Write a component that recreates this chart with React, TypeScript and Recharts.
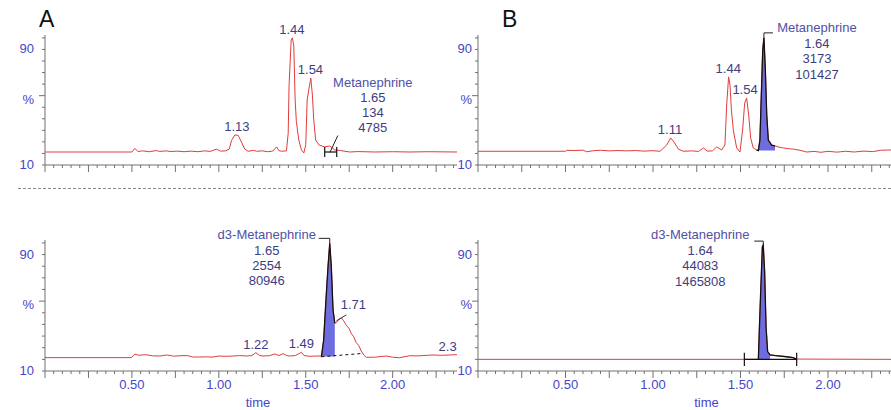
import React from 'react';
import { ComposedChart, Line, Area, XAxis, YAxis, Scatter, ReferenceLine } from 'recharts';

const RED = '#e23c3c';
const AXIS = '#707070';
const TICK_TEXT = '#4646c8';
const PEAK_TEXT = '#3d3d80';
const NAME_TEXT = '#5050a6';
const FILL = '#6d6de0';
const FONT = '"Liberation Sans", Arial, sans-serif';
const FS = 13;

// [retention time (min), relative intensity]
const traceATop = [
  [0, 19], [0.5, 19], [0.517, 21.5], [0.535, 19.3], [0.56, 19.8], [0.6, 19.2], [0.64, 20], [0.66, 19.4],
  [0.7, 19.8], [0.72, 19.3], [0.76, 19.6], [0.8, 19.2], [0.84, 19.6], [0.88, 19.2], [0.92, 19.8],
  [0.95, 19.4], [0.987, 21], [1.01, 19.6], [1.04, 19.8], [1.06, 21], [1.073, 27], [1.092, 30.8],
  [1.111, 30.5], [1.13, 25.9], [1.149, 21], [1.169, 19.5], [1.2, 20.2], [1.217, 19.5], [1.25, 19.8],
  [1.28, 19.2], [1.31, 19.6], [1.332, 22.5], [1.345, 20], [1.36, 19.5], [1.389, 19.8], [1.399, 32],
  [1.404, 65], [1.416, 96.5], [1.423, 98], [1.431, 93], [1.439, 55], [1.446, 40], [1.46, 27.3],
  [1.475, 20.4], [1.489, 18.3], [1.5, 24], [1.508, 55], [1.519, 63.3], [1.529, 70.2], [1.538, 58.5],
  [1.546, 41.2], [1.557, 27.3], [1.577, 23.8], [1.609, 22.5], [1.638, 23.2], [1.667, 20.4], [1.7, 20],
  [1.753, 19], [1.8, 19.3], [1.9, 19], [2.0, 19.2], [2.1, 19], [2.2, 19.2], [2.37, 19],
];

const traceABottom = [
  [0, 19.2], [0.498, 19.2], [0.517, 21.6], [0.54, 20.8], [0.58, 21.2], [0.62, 20.4], [0.661, 20.3],
  [0.7, 21], [0.74, 20.2], [0.776, 20.5], [0.82, 20.6], [0.85, 19.6], [0.891, 19.6], [0.93, 19.7],
  [0.967, 19.6], [1.0, 20.3], [1.04, 20.1], [1.082, 20.3], [1.12, 20.6], [1.16, 20.3], [1.19, 20.6],
  [1.213, 22.6], [1.235, 20.6], [1.255, 20.3], [1.29, 20.5], [1.322, 21.7], [1.345, 20.6], [1.37, 21.9],
  [1.39, 20.6], [1.408, 20.3], [1.44, 20.6], [1.475, 22.8], [1.49, 20.6], [1.523, 20.1], [1.56, 20.3],
  [1.584, 20.3], [1.59, 19.8], [1.603, 31.3], [1.615, 56.5], [1.628, 81.6], [1.638, 97.7], [1.647, 81.6],
  [1.657, 51.9], [1.667, 42.8], [1.678, 43.5], [1.69, 45.5], [1.705, 46.5], [1.718, 44.5], [1.733, 41.5],
  [1.748, 39.5], [1.763, 35.5], [1.776, 33.5], [1.79, 29.5], [1.805, 27.5], [1.819, 23.8], [1.834, 21],
  [1.848, 19.4], [1.9, 19.5], [1.963, 20.3], [2.0, 19.5], [2.04, 19.1], [2.098, 20.5], [2.15, 20.4],
  [2.2, 20.8], [2.232, 21], [2.28, 20.8], [2.37, 21.2],
];

const traceBTop = [
  [0, 19.5], [0.5, 19.5], [0.507, 20.2], [0.55, 20], [0.6, 20.3], [0.62, 19.2], [0.66, 19.9], [0.7, 20.2],
  [0.75, 19.8], [0.8, 20], [0.85, 19.8], [0.9, 20], [0.95, 19.6], [1.0, 19.9], [1.04, 19.5], [1.078, 23.8],
  [1.101, 28.7], [1.12, 25.9], [1.145, 21], [1.173, 19.5], [1.22, 19.8], [1.26, 19.4], [1.288, 21.8],
  [1.31, 19.6], [1.34, 19.8], [1.364, 22.5], [1.392, 20.4], [1.411, 23.8], [1.421, 51.5], [1.432, 71],
  [1.44, 65.4], [1.448, 48], [1.459, 34.2], [1.478, 21.8], [1.497, 19], [1.512, 34.2], [1.524, 52.9],
  [1.535, 56.4], [1.547, 44.6], [1.558, 28.7], [1.573, 21.8], [1.592, 20.4], [1.602, 20], [1.611, 27.3],
  [1.619, 58.5], [1.627, 89.6], [1.634, 98], [1.642, 75.9], [1.65, 44.6], [1.659, 27.3], [1.678, 23.8],
  [1.697, 23.2], [1.72, 22.4], [1.745, 21.8], [1.78, 21.2], [1.802, 21], [1.84, 20.2], [1.878, 19],
  [1.92, 19.4], [1.96, 18.8], [2.0, 19.5], [2.05, 18.9], [2.1, 19.5], [2.15, 19], [2.2, 19.6],
  [2.26, 19.3], [2.3, 20.2], [2.36, 20.4],
];

const traceBBottom = [
  [0, 18], [1.602, 18], [1.607, 35.9], [1.615, 63.4], [1.625, 95.4], [1.63, 96.5], [1.638, 78.2],
  [1.646, 40.4], [1.655, 23.3], [1.669, 21], [1.7, 20.6], [1.764, 19.8], [1.8, 19.2], [1.821, 18.2],
  [2.36, 18],
];

// apex labels
const peaksATop = [
  { t: 1.104, v: 30.8, text: '1.13' },
  { t: 1.42, v: 98, text: '1.44' },
  { t: 1.527, v: 70.2, text: '1.54' },
];
const peaksABottom = [
  { t: 1.213, v: 22.6, text: '1.22' },
  { t: 1.475, v: 22.8, text: '1.49' },
  { t: 1.705, v: 46.5, text: '1.71' },
  { t: 2.316, v: 21, text: '2.3' },
];
const peaksBTop = [
  { t: 1.097, v: 28.7, text: '1.11' },
  { t: 1.43, v: 71, text: '1.44' },
  { t: 1.526, v: 56.4, text: '1.54' },
];

// integrated compound: name, RT, height, area
const compoundATop = { t: 1.65, v: 20, lines: ['Metanephrine', '1.65', '134', '4785'] };
const compoundBTop = { t: 1.634, v: 98, lines: ['Metanephrine', '1.64', '3173', '101427'] };
const compoundABottom = { t: 1.638, v: 97.7, lines: ['d3-Metanephrine', '1.65', '2554', '80946'] };
const compoundBBottom = { t: 1.63, v: 96.5, lines: ['d3-Metanephrine', '1.64', '44083', '1465808'] };

// integration windows [start, end] and baselines
const windowBTop = { from: 1.592, to: 1.697, base: 20 };
const windowABottom = { from: 1.59, to: 1.667, base: 20 };
const windowBBottom = { from: 1.602, to: 1.669, base: 18 };
const limitsATop = { from: 1.609, to: 1.678, level: 19, half: 3.5 };
const limitsBBottom = { from: 1.522, to: 1.821, level: 18, half: 4.6 };
const baselineABottom = [[1.59, 19.8], [1.82, 22]];

const xLabelTicks = [0.5, 1.0, 1.5, 2.0];
const yTicks = [10, 18, 26, 34, 42, 50, 58, 66, 74, 82, 90, 98];
const yTickLabels: Record<number, string> = { 10: '10', 58: '%', 90: '90' };

const peakShift: Record<string, { dx: number; dy: number; leader?: number[][] }> = {
  '1.71': { dx: 12, dy: -9, leader: [[-5, 3], [5, -3]] },
};

const pts = (arr: number[][]) => arr.map(([t, v]) => ({ t, v }));
const between = (arr: number[][], a: number, b: number) => pts(arr.filter(([t]) => t >= a - 1e-9 && t <= b + 1e-9));

function minorTicks(max: number) {
  const out: number[] = [];
  for (let i = 0; i * 0.05 <= max + 1e-9; i++) out.push(Math.round(i * 5) / 100);
  return out;
}

function XTick({ x, y, payload, showLabel }: any) {
  const v = payload.value;
  const major = Math.abs(v / 0.25 - Math.round(v / 0.25)) < 1e-6;
  const labelled = showLabel && xLabelTicks.some((l) => Math.abs(l - v) < 1e-6);
  return (
    <g>
      <line x1={x} x2={x} y1={y} y2={y + (major ? 7 : 3)} stroke={AXIS} />
      {labelled && (
        <text x={x} y={y + 18} textAnchor="middle" fontSize={FS} fill={TICK_TEXT}>
          {v.toFixed(2)}
        </text>
      )}
    </g>
  );
}

function YTick({ x, y, payload, gap }: any) {
  const v = payload.value;
  const text = yTickLabels[v];
  return (
    <g>
      <line x1={x - (v === 58 ? 6 : 3)} x2={x} y1={y} y2={y} stroke={AXIS} />
      {text && (
        <text x={x - gap} y={y + (text === '%' ? 8 : 4)} textAnchor="end" fontSize={FS} fill={TICK_TEXT}>
          {text}
        </text>
      )}
    </g>
  );
}

function Panel(props: any) {
  const { box, plot, xMax, trace, peaks, compound, layout, win, limits, dashed, yGap, showX, timeDx } = props;
  const xAxisH = box.height - plot.top - plot.h;
  const data = pts(trace);
  const segs: any[] = [];
  if (limits) {
    segs.push([[limits.from, limits.level], [limits.to, limits.level]]);
    segs.push([[limits.from, limits.level - limits.half], [limits.from, limits.level + limits.half]]);
    segs.push([[limits.to, limits.level - limits.half], [limits.to, limits.level + limits.half]]);
  }
  return (
    <div style={{ position: 'absolute', left: box.left, top: box.top }}>
      <ComposedChart
        width={box.width}
        height={box.height}
        margin={{ top: plot.top, right: box.width - plot.left - plot.w, bottom: 0, left: 0 }}
      >
        <XAxis
          type="number"
          dataKey="t"
          domain={[0, xMax]}
          ticks={minorTicks(xMax)}
          interval={0}
          height={xAxisH}
          axisLine={{ stroke: AXIS }}
          tickLine={false}
          tickSize={0}
          tickMargin={0}
          tick={(p: any) => <XTick {...p} showLabel={showX} />}
          label={showX ? { value: 'time', position: 'insideBottom', offset: 3, dx: timeDx, fill: TICK_TEXT, fontSize: FS } : undefined}
        />
        <YAxis
          type="number"
          dataKey="v"
          domain={[10, 100]}
          ticks={yTicks}
          interval={0}
          width={plot.left}
          axisLine={{ stroke: AXIS }}
          tickLine={false}
          tickSize={0}
          tickMargin={0}
          tick={(p: any) => <YTick {...p} gap={yGap} />}
        />
        {win && (
          <Area
            data={between(trace, win.from, win.to)}
            dataKey="v"
            type="linear"
            baseValue={win.base}
            fill={FILL}
            fillOpacity={1}
            stroke="none"
            isAnimationActive={false}
          />
        )}
        <Line data={data} dataKey="v" type="linear" stroke={RED} strokeWidth={1} dot={false} activeDot={false} isAnimationActive={false} />
        {win && (
          <Line
            data={between(trace, win.from, layout.outlineTo ?? win.to)}
            dataKey="v"
            type="linear"
            stroke="#111"
            strokeWidth={1.3}
            dot={false}
            activeDot={false}
            isAnimationActive={false}
          />
        )}
        {dashed && (
          <ReferenceLine
            segment={[{ x: dashed[0][0], y: dashed[0][1] }, { x: dashed[1][0], y: dashed[1][1] }]}
            stroke="#111"
            strokeDasharray="3 3"
          />
        )}
        {segs.map((s, i) => (
          <ReferenceLine key={i} segment={[{ x: s[0][0], y: s[0][1] }, { x: s[1][0], y: s[1][1] }]} stroke="#111" strokeWidth={1.2} />
        ))}
        <Scatter
          data={peaks}
          dataKey="v"
          isAnimationActive={false}
          shape={(p: any) => {
            const s = peakShift[p.payload.text] ?? { dx: 0, dy: -4 };
            return (
              <g>
                {s.leader && (
                  <polyline
                    points={s.leader.map(([a, b]) => `${p.cx + a},${p.cy + b}`).join(' ')}
                    fill="none"
                    stroke="#333"
                  />
                )}
                <text x={p.cx + s.dx} y={p.cy + s.dy} textAnchor="middle" fontSize={FS} fill={PEAK_TEXT}>
                  {p.payload.text}
                </text>
              </g>
            );
          }}
        />
        <Scatter
          data={[compound]}
          dataKey="v"
          isAnimationActive={false}
          shape={(p: any) => (
            <g>
              <polyline
                points={layout.leader.map(([a, b]: number[]) => `${p.cx + a},${p.cy + b}`).join(' ')}
                fill="none"
                stroke="#222"
              />
              {p.payload.lines.map((ln: string, i: number) => (
                <text
                  key={i}
                  x={p.cx + layout.dx}
                  y={p.cy + layout.dy + i * layout.gap}
                  textAnchor="middle"
                  fontSize={FS}
                  fill={i === 0 ? NAME_TEXT : PEAK_TEXT}
                >
                  {ln}
                </text>
              ))}
            </g>
          )}
        />
      </ComposedChart>
    </div>
  );
}

export default function App() {
  return (
    <div style={{ position: 'absolute', left: 0, top: 0, width: 891, height: 410, overflow: 'hidden', background: '#fff', fontFamily: FONT }}>
      <div style={{ position: 'absolute', left: 39, top: 6, fontSize: 23, color: '#111' }}>A</div>
      <div style={{ position: 'absolute', left: 502, top: 6, fontSize: 23, color: '#111' }}>B</div>
      <div style={{ position: 'absolute', left: 18, top: 188, width: 873, borderTop: '1px dashed #8a8a8a' }} />
      <Panel
        box={{ left: 0, top: 0, width: 458, height: 200 }}
        plot={{ left: 45, top: 35, w: 412, h: 130 }}
        xMax={2.37}
        trace={traceATop}
        peaks={peaksATop}
        compound={compoundATop}
        layout={{ dx: 41, dy: -64, gap: 15, leader: [[-2, 2], [6, -15]] }}
        limits={limitsATop}
        yGap={11}
        showX={false}
      />
      <Panel
        box={{ left: 450, top: 0, width: 441, height: 200 }}
        plot={{ left: 28, top: 35, w: 413, h: 130 }}
        xMax={2.36}
        trace={traceBTop}
        peaks={peaksBTop}
        compound={compoundBTop}
        layout={{ dx: 53, dy: -6, gap: 15.7, leader: [[0, 0], [0, -5], [9, -5]] }}
        win={windowBTop}
        yGap={6}
        showX={false}
      />
      <Panel
        box={{ left: 0, top: 200, width: 458, height: 210 }}
        plot={{ left: 45, top: 40, w: 412, h: 131 }}
        xMax={2.37}
        trace={traceABottom}
        peaks={peaksABottom}
        compound={compoundABottom}
        layout={{ dx: -63, dy: -4, gap: 15.3, leader: [[0, 0], [0, -5], [-11, -5]] }}
        win={windowABottom}
        dashed={baselineABottom}
        yGap={11}
        showX
        timeDx={7}
      />
      <Panel
        box={{ left: 450, top: 200, width: 441, height: 210 }}
        plot={{ left: 28, top: 40, w: 413, h: 131 }}
        xMax={2.36}
        trace={traceBBottom}
        peaks={[]}
        compound={compoundBBottom}
        layout={{ dx: -63, dy: -6, gap: 15.5, leader: [[0, 0], [0, -4], [-9, -4]], outlineTo: 1.821 }}
        win={windowBBottom}
        limits={limitsBBottom}
        yGap={6}
        showX
        timeDx={22}
      />
    </div>
  );
}
